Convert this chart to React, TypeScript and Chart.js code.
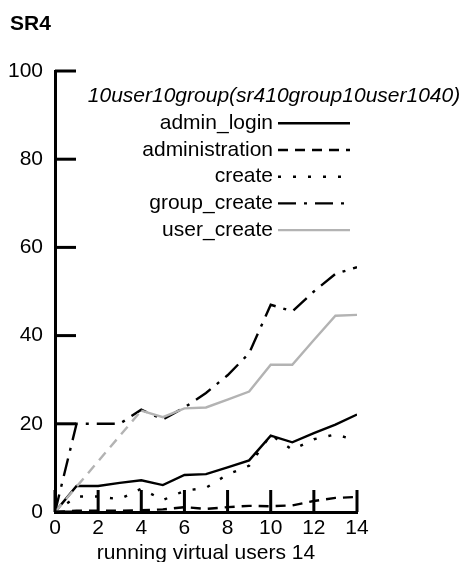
import React, { useEffect, useRef } from "react";
import { Chart, registerables } from "chart.js";

Chart.register(...registerables);

const chartTitle = "SR4";
const legendTitle = "10user10group(sr410group10user1040)";
const xAxisTitle = "running virtual users 14";

const users = [0, 1, 2, 3, 4, 5, 6, 7, 8, 9, 10, 11, 12, 13, 14];
const adminLogin = [0, 5.9, 5.9, 6.6, 7.2, 6.1, 8.4, 8.6, 10.1, 11.7, 17.3, 15.8, 17.9, 19.8, 22.1];
const administration = [0, 0.3, 0.3, 0.3, 0.4, 0.6, 1.1, 0.7, 1.1, 1.4, 1.3, 1.5, 2.5, 3.2, 3.4];
const create = [0, 3.5, 3.5, 2.9, 5.3, 2.7, 4.8, 5.5, 8.5, 10.5, 17.5, 14.1, 16.5, 17.6, 16.2];
const groupCreate = [0, 20, 20, 20, 23.2, 21, 23.7, 27, 31, 36, 47, 45.5, 50, 54, 55.5];
const userCreate = [0, null, null, null, 23, 21.5, 23.5, 23.7, 25.5, 27.3, 33.4, 33.4, 39, 44.5, 44.7];

const seriesNames = ["admin_login", "administration", "create", "group_create", "user_create"];
const seriesColors = ["#000000", "#000000", "#000000", "#000000", "#b3b3b3"];
const seriesDashes: number[][] = [[], [10, 7], [3, 12], [18, 8, 3, 8], []];

const xMin = 0;
const xMax = 14;
const xStep = 2;
const yMin = 0;
const yMax = 100;
const yStep = 20;

const FONT = '"Liberation Sans", Arial, Helvetica, sans-serif';
const LINE_W = 2.4;

const toPoints = (vals: (number | null)[]) => users.map((u, i) => ({ x: u, y: vals[i] }));

const decorPlugin = {
  id: "decor",
  afterDatasetsDraw(chart: any) {
    const { ctx, chartArea, scales } = chart;
    ctx.save();
    ctx.strokeStyle = "#000";
    ctx.lineWidth = 3;
    ctx.lineCap = "butt";
    ctx.setLineDash([]);
    scales.x.ticks.forEach((t: any) => {
      const px = scales.x.getPixelForValue(t.value);
      ctx.beginPath();
      ctx.moveTo(px, chartArea.bottom);
      ctx.lineTo(px, chartArea.bottom - 22);
      ctx.stroke();
    });
    scales.y.ticks.forEach((t: any) => {
      const py = scales.y.getPixelForValue(t.value);
      ctx.beginPath();
      ctx.moveTo(chartArea.left, py);
      ctx.lineTo(chartArea.left + 21, py);
      ctx.stroke();
    });
    ctx.restore();
  },
  afterDraw(chart: any) {
    const { ctx } = chart;
    ctx.save();
    // chart title
    ctx.fillStyle = "#000";
    ctx.font = `bold 21px ${FONT}`;
    ctx.textAlign = "left";
    ctx.textBaseline = "alphabetic";
    ctx.fillText(chartTitle, 10, 30);

    // legend
    const rowY0 = 96.6;
    const rowH = 26.7;
    ctx.font = `italic 21px ${FONT}`;
    ctx.textAlign = "center";
    ctx.textBaseline = "middle";
    ctx.fillText(legendTitle, 274, rowY0);
    ctx.font = `21px ${FONT}`;
    ctx.textAlign = "right";
    seriesNames.forEach((name, i) => {
      const y = rowY0 + rowH * (i + 1);
      ctx.fillStyle = "#000";
      ctx.fillText(name, 273, y);
      ctx.beginPath();
      ctx.strokeStyle = seriesColors[i];
      ctx.lineWidth = LINE_W;
      ctx.setLineDash(seriesDashes[i]);
      ctx.moveTo(278, y);
      ctx.lineTo(350, y);
      ctx.stroke();
    });
    ctx.restore();
  },
};

export default function App() {
  const canvasRef = useRef<HTMLCanvasElement | null>(null);

  useEffect(() => {
    if (!canvasRef.current) return;
    const series = [adminLogin, administration, create, groupCreate, userCreate];
    const datasets: any[] = series.map((vals, i) => ({
      label: seriesNames[i],
      data: toPoints(vals),
      borderColor: seriesColors[i],
      backgroundColor: seriesColors[i],
      borderWidth: LINE_W,
      borderDash: seriesDashes[i],
      pointRadius: 0,
      tension: 0,
      fill: false,
    }));
    // user_create: the span with missing samples is drawn dashed
    datasets[4].spanGaps = true;
    datasets[4].segment = {
      borderDash: (ctx: any) => (ctx.p0.skip || ctx.p1.skip ? [10, 7] : undefined),
    };
    // draw order: grey underneath
    const ordered = [datasets[4], datasets[0], datasets[1], datasets[2], datasets[3]];

    const chart = new Chart(canvasRef.current, {
      type: "line",
      data: { datasets: ordered },
      options: {
        responsive: false,
        animation: false,
        devicePixelRatio: 1,
        layout: { padding: { top: 71, right: 112, left: 0, bottom: 0 } },
        plugins: {
          legend: { display: false },
          title: { display: false },
          tooltip: { enabled: false },
        },
        scales: {
          x: {
            type: "linear",
            min: xMin,
            max: xMax,
            ticks: {
              stepSize: xStep,
              color: "#000",
              font: { family: FONT, size: 21 },
              padding: 4,
              maxRotation: 0,
              autoSkip: false,
            },
            grid: { display: false, drawTicks: false },
            border: { display: true, color: "#000", width: 3 },
            title: {
              display: true,
              text: xAxisTitle,
              color: "#000",
              font: { family: FONT, size: 21, lineHeight: 1 },
              padding: { top: 0, bottom: -2 },
            },
            afterFit: (s: any) => {
              s.height = 50;
            },
          },
          y: {
            type: "linear",
            min: yMin,
            max: yMax,
            ticks: {
              stepSize: yStep,
              color: "#000",
              font: { family: FONT, size: 21 },
              padding: 12,
            },
            grid: { display: false, drawTicks: false },
            border: { display: true, color: "#000", width: 3 },
            afterFit: (s: any) => {
              s.width = 55;
            },
          },
        },
      },
      plugins: [decorPlugin],
    } as any);
    return () => chart.destroy();
  }, []);

  return (
    <div style={{ position: "absolute", left: 0, top: 0, width: 469, height: 562, background: "#fff" }}>
      <canvas ref={canvasRef} width={469} height={562} style={{ width: 469, height: 562, display: "block" }} />
    </div>
  );
}
